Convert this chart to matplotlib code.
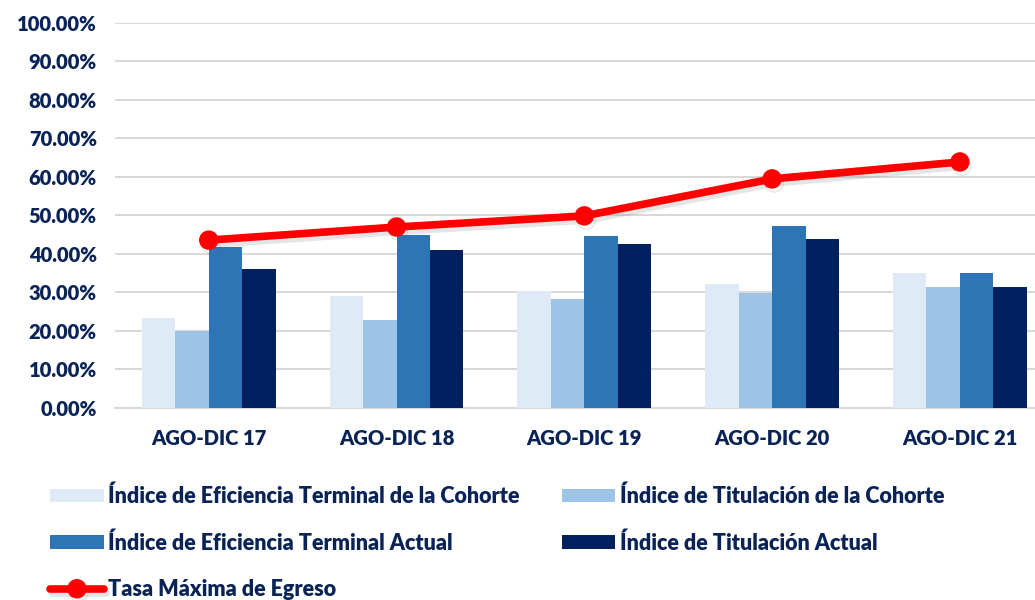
import matplotlib

matplotlib.use("Agg")
import matplotlib.pyplot as plt
import matplotlib.patheffects as pe
import numpy as np

plt.rcParams["font.family"] = ["Lato", "DejaVu Sans"]

periodos = ["AGO-DIC 17", "AGO-DIC 18", "AGO-DIC 19", "AGO-DIC 20", "AGO-DIC 21"]
ef_cohorte = [23.3, 29.1, 30.4, 32.2, 35.0]
tit_cohorte = [20.1, 22.8, 28.4, 29.9, 31.4]
ef_actual = [41.8, 44.9, 44.6, 47.4, 35.0]
tit_actual = [36.0, 41.0, 42.7, 44.0, 31.3]
tasa_max = [43.6, 47.0, 49.9, 59.5, 63.9]
yticks = [0, 10, 20, 30, 40, 50, 60, 70, 80, 90, 100]

series = [
    ("Índice de Eficiencia Terminal de la Cohorte", ef_cohorte, "#DEEAF6"),
    ("Índice de Titulación de la Cohorte", tit_cohorte, "#9DC3E6"),
    ("Índice de Eficiencia Terminal Actual", ef_actual, "#2E75B6"),
    ("Índice de Titulación Actual", tit_actual, "#002060"),
]
text_color = "#0A2357"

fig = plt.figure(figsize=(10.35, 6.0), dpi=100)
ax = fig.add_axes([0.111, 0.32, 0.889, 0.6417])

x = np.arange(len(periodos))
w = 0.178
handles = []
for i, (label, vals, color) in enumerate(series):
    h = ax.bar(x + (i - 1.5) * w, vals, width=w, color=color, label=label, zorder=3)
    handles.append(h)

(line,) = ax.plot(
    x, tasa_max, color="#FF0000", lw=5.5, marker="o", markersize=13,
    label="Tasa Máxima de Egreso", zorder=5, solid_capstyle="round",
    path_effects=[pe.SimpleLineShadow(offset=(1.5, -3), alpha=0.15, shadow_color="#555555"),
                  pe.Normal()],
)

ax.set_ylim(0, 100)
ax.set_xlim(-0.5, 4.4)
ax.set_yticks(yticks)
ax.set_yticklabels([f"{v:.2f}%" for v in yticks])
ax.set_xticks(x)
ax.set_xticklabels(periodos)
ax.grid(axis="y", color="#D9D9D9", lw=1.5, zorder=0)
for s in ["top", "right", "left"]:
    ax.spines[s].set_visible(False)
ax.spines["bottom"].set_color("#D9D9D9")
ax.spines["bottom"].set_linewidth(1.5)
ax.tick_params(length=0, pad=13, labelsize=14.5, labelcolor=text_color)
ax.tick_params(axis="x", pad=15)
for t in ax.get_xticklabels() + ax.get_yticklabels():
    t.set_fontweight("heavy")

order = [handles[0], handles[2], line, handles[1], handles[3]]
leg = fig.legend(
    handles=order, labels=[h.get_label() for h in order], ncol=2,
    loc="upper left", bbox_to_anchor=(0.04, 0.205), frameon=False,
    fontsize=15.5, handlelength=2.5, handleheight=0.6, handletextpad=0.2,
    columnspacing=1.95, labelspacing=1.17, borderaxespad=0,
)
for t in leg.get_texts():
    t.set_color(text_color)
    t.set_fontweight("heavy")

fig.savefig("out.png", dpi=100)
